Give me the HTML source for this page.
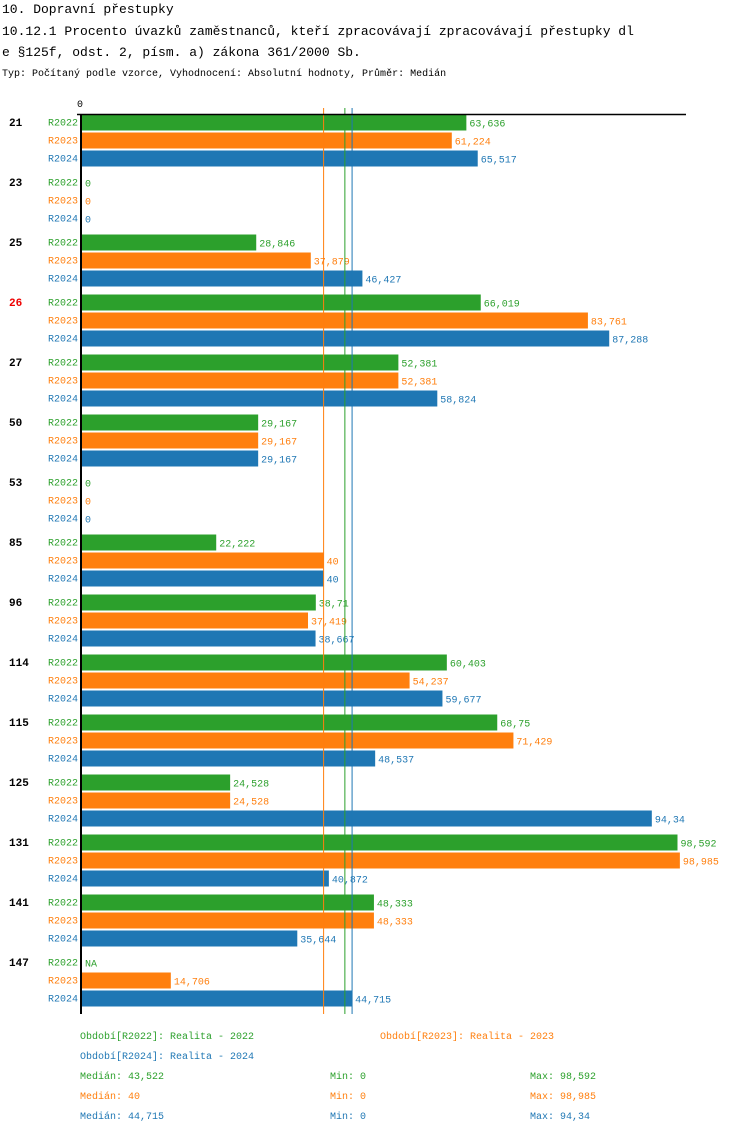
<!DOCTYPE html>
<html><head><meta charset="utf-8"><style>
body{margin:0;background:#fff;width:750px;height:1134px;overflow:hidden}
svg{font-family:"Liberation Mono",monospace}
</style></head><body>
<svg id="c" width="750" height="1134" xmlns="http://www.w3.org/2000/svg">
<text x="2" y="13" font-size="13">10. Dopravní přestupky</text>
<text x="2" y="35" font-size="13">10.12.1 Procento úvazků zaměstnanců, kteří zpracovávají zpracovávají přestupky dl</text>
<text x="2" y="56" font-size="13">e §125f, odst. 2, písm. a) zákona 361/2000 Sb.</text>
<text x="2" y="76" font-size="10">Typ: Počítaný podle vzorce, Vyhodnocení: Absolutní hodnoty, Průměr: Medián</text>
<text x="77" y="107" font-size="10">0</text>
<g id="bars"></g>
<line x1="77" y1="114.5" x2="686" y2="114.5" stroke="#000" stroke-width="1.5"/>
<line x1="81" y1="114" x2="81" y2="1014" stroke="#000" stroke-width="2"/>
<g id="legend" font-size="10"></g>
</svg>
<script>
const groups=["21","23","25","26","27","50","53","85","96","114","115","125","131","141","147"];
const series=["R2022","R2023","R2024"];
const v2022=[63.636,0,28.846,66.019,52.381,29.167,0,22.222,38.71,60.403,68.75,24.528,98.592,48.333,null];
const v2023=[61.224,0,37.879,83.761,52.381,29.167,0,40,37.419,54.237,71.429,24.528,98.985,48.333,14.706];
const v2024=[65.517,0,46.427,87.288,58.824,29.167,0,40,38.667,59.677,48.537,94.34,40.872,35.644,44.715];
const labels2022=["63,636","0","28,846","66,019","52,381","29,167","0","22,222","38,71","60,403","68,75","24,528","98,592","48,333","NA"];
const labels2023=["61,224","0","37,879","83,761","52,381","29,167","0","40","37,419","54,237","71,429","24,528","98,985","48,333","14,706"];
const labels2024=["65,517","0","46,427","87,288","58,824","29,167","0","40","38,667","59,677","48,537","94,34","40,872","35,644","44,715"];
const medians=[43.522,40,44.715];
const colors=["#2ca02c","#ff7f0e","#1f77b4"];
const NS="http://www.w3.org/2000/svg";
const x=v=>82+v*6.04;
const g=document.getElementById('bars');
function el(t,a,txt){const e=document.createElementNS(NS,t);for(const k in a)e.setAttribute(k,a[k]);if(txt!==undefined)e.textContent=txt;return e;}
const vals=[v2022,v2023,v2024],labs=[labels2022,labels2023,labels2024];
groups.forEach((gr,i)=>{
  const y0=114+i*60;
  const t=el('text',{x:9,y:y0+12,'font-size':11,'font-weight':'bold',fill:gr==="26"?"#e00":"#000"},gr);
  
  
  g.appendChild(t);
  series.forEach((s,j)=>{
    const y=y0+j*18+0.5;
    const sl=el('text',{x:78,y:y+11,'font-size':10,'text-anchor':'end',fill:colors[j]},s);
    
    
    g.appendChild(sl);
    const v=vals[j][i];
    if(v){const r=el('rect',{x:82,y:y,width:x(v)-82,height:16,fill:colors[j]});
      
      
      g.appendChild(r);}
    const vl=el('text',{x:(v?x(v):82)+3,y:y+12,'font-size':10,fill:colors[j]},labs[j][i]);
    
    
    g.appendChild(vl);
  });
});
medians.forEach((m,j)=>{
  const l=el('line',{x1:x(m),x2:x(m),y1:108,y2:1014,stroke:colors[j],'stroke-width':1});
  
  
  g.appendChild(l);
});
const lg=document.getElementById('legend');
const items=[[80,1039,0,"Období[R2022]: Realita - 2022"],[380,1039,1,"Období[R2023]: Realita - 2023"],[80,1059,2,"Období[R2024]: Realita - 2024"],
[80,1079,0,"Medián: 43,522"],[330,1079,0,"Min: 0"],[530,1079,0,"Max: 98,592"],
[80,1099,1,"Medián: 40"],[330,1099,1,"Min: 0"],[530,1099,1,"Max: 98,985"],
[80,1119,2,"Medián: 44,715"],[330,1119,2,"Min: 0"],[530,1119,2,"Max: 94,34"]];
items.forEach(it=>{const t=el('text',{x:it[0],y:it[1],fill:colors[it[2]]},it[3]);
  
  
  lg.appendChild(t);});
</script>
</body></html>
